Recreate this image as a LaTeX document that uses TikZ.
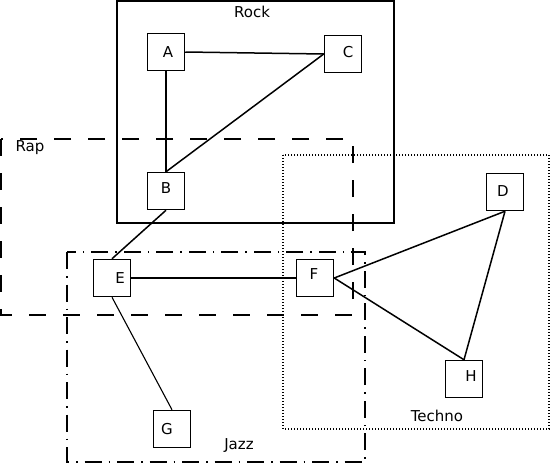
\documentclass[tikz,border=0pt]{standalone}
\usepackage{fontspec}
\setmainfont{DejaVu Sans}
\begin{document}
\begin{tikzpicture}[x=1pt,y=-1pt,
  vbox/.style={draw, line width=1.5pt, minimum width=37pt, minimum height=37pt, inner sep=0pt},
  vlab/.style={font=\fontsize{15}{17}\selectfont, inner sep=0pt},
  edge/.style={line width=1.5pt},
  grp/.style={line width=1.5pt},
  glabel/.style={font=\fontsize{15}{17}\selectfont, inner sep=0pt}]
\useasboundingbox (0,0) rectangle (550,463);
% groups
\draw[grp] (117,1) rectangle (394,223);
\node[glabel] (rockl) at (252,12) {Rock};
\draw[grp, dash pattern=on 17pt off 17pt] (1,139) rectangle (353,315);
\node[glabel] (rapl) at (30,148) {Rap};
\draw[grp, line width=1.1pt, dash pattern=on 1pt off 2pt] (283,155) rectangle (549,429);
\node[glabel] (technol) at (437,416) {Techno};
\draw[grp, dash pattern=on 17pt off 7pt on 1.5pt off 7pt] (67,252) rectangle (365,462);
\node[glabel] (jazzl) at (239,446) {Jazz};
% vertices
\node[vbox, label={[vlab, xshift=2pt]center:A}] (A) at (166,52) {};
\node[vbox, label={[vlab, xshift=5pt, yshift=2pt]center:C}] (C) at (343,54) {};
\node[vbox, label={[vlab, yshift=3pt]center:B}] (B) at (166,191) {};
\node[vbox, label={[vlab, xshift=-2pt, yshift=1pt]center:D}] (D) at (505,192) {};
\node[vbox, label={[vlab, xshift=8pt]center:E}] (E) at (112,278) {};
\node[vbox, label={[vlab, xshift=-1pt, yshift=4pt]center:F}] (F) at (315,278) {};
\node[vbox, label={[vlab, xshift=7pt, yshift=3pt]center:H}] (H) at (464,379) {};
\node[vbox, label={[vlab, xshift=-5pt]center:G}] (G) at (172,429) {};
% edges
\draw[edge] (A.east) -- (C.west);
\draw[edge] (A.south) -- (B.north);
\draw[edge] (C.west) -- (B.north);
\draw[edge] (B.south) -- (E.north);
\draw[edge] (E.east) -- (F.west);
\draw[edge, line width=1.1pt] (E.south) -- (G.north);
\draw[edge] (F.east) -- (D.south);
\draw[edge] (F.east) -- (H.north);
\draw[edge] (D.south) -- (H.north);
\end{tikzpicture}
\end{document}
